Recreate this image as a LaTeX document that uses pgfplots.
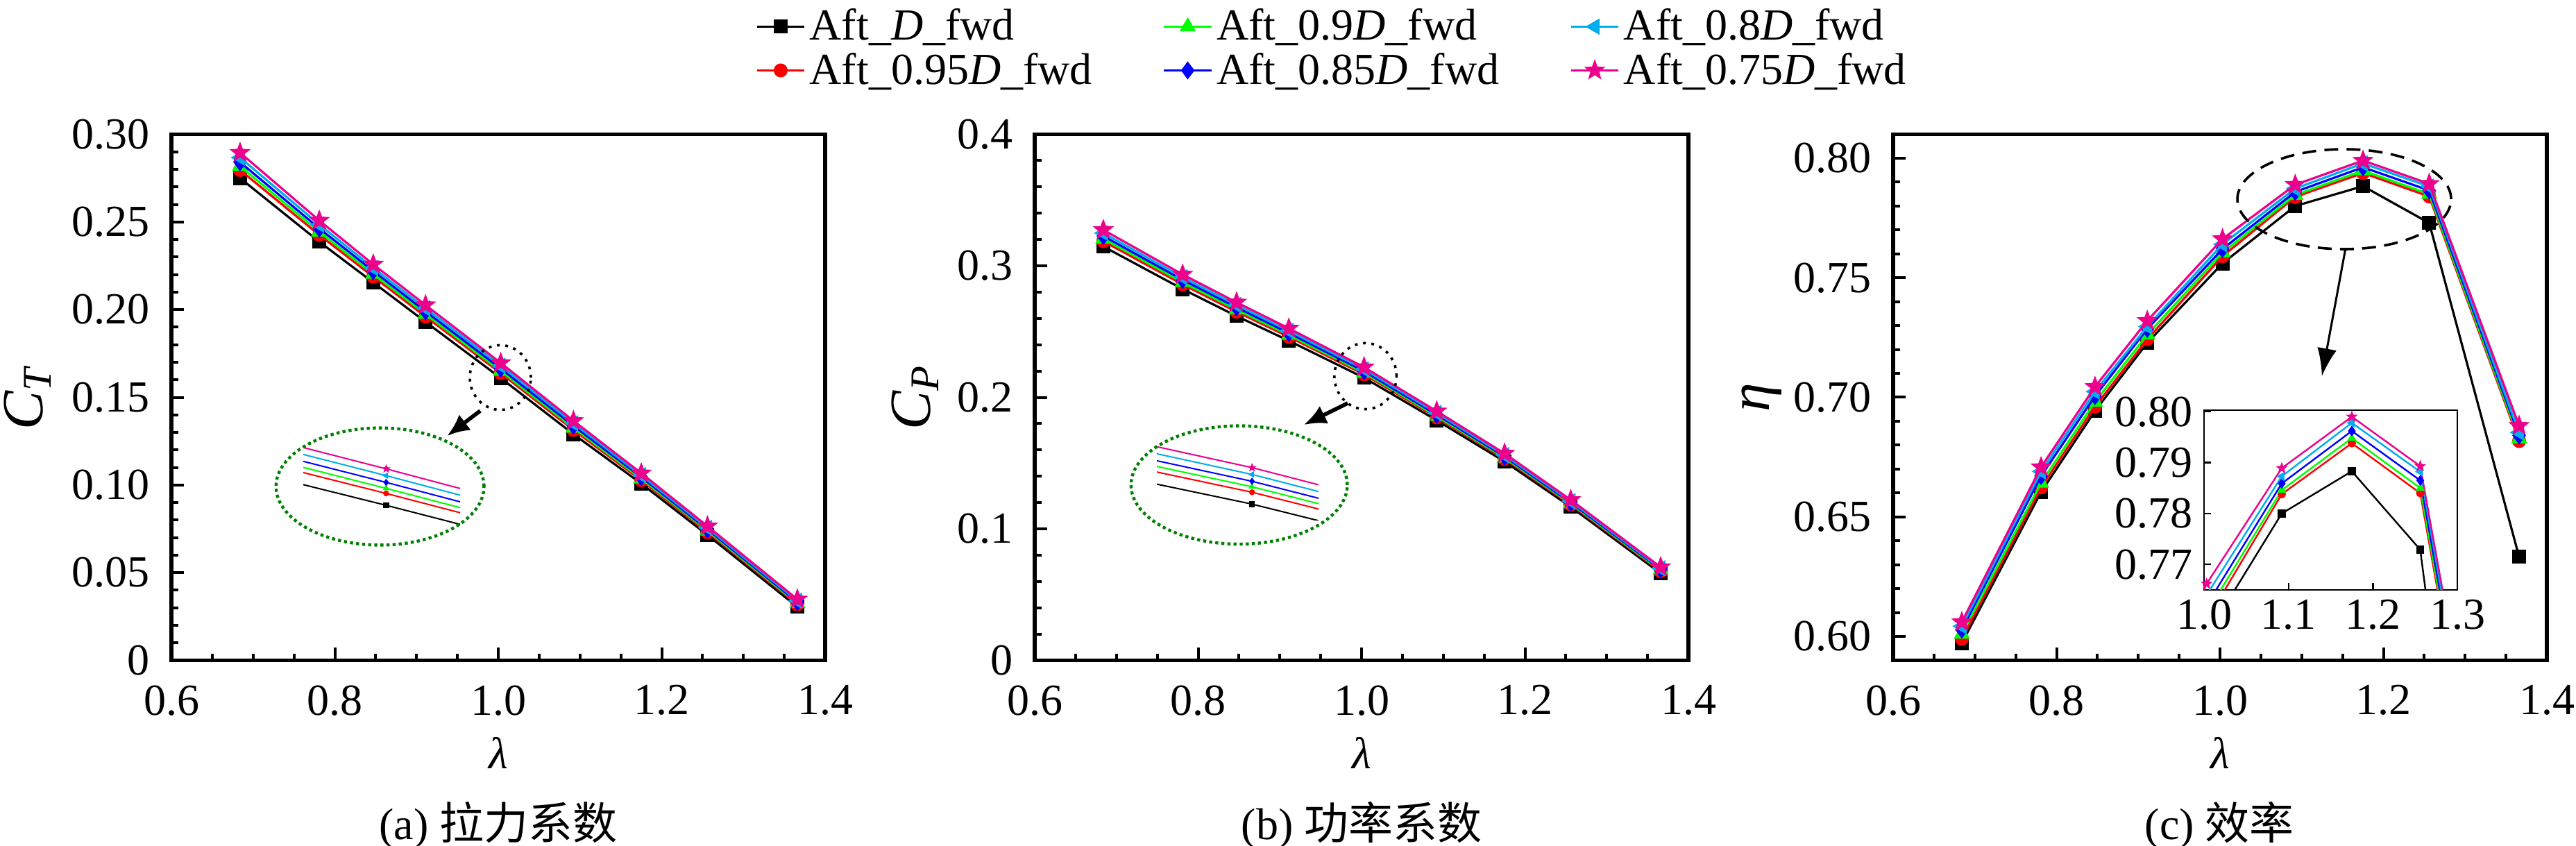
\documentclass[border=0pt]{standalone}
\usepackage{pgfplots}
\pgfplotsset{compat=1.18}
\usepackage{pgfplotstable}
\usepackage{fontspec}
\setmainfont{Liberation Serif}
\newfontfamily\cjk{Noto Sans CJK SC}
\usetikzlibrary{arrows.meta}
\newcommand\fs{\fontsize{16}{19}\selectfont}
\newcommand\fsl{\fontsize{21}{24}\selectfont}
\definecolor{dgreen}{RGB}{0,128,0}

\pgfdeclareplotmark{fstar}{%
 \pgfpathmoveto{\pgfpointpolar{90}{\pgfplotmarksize}}%
 \pgfpathlineto{\pgfpointpolar{126}{0.42\pgfplotmarksize}}%
 \pgfpathlineto{\pgfpointpolar{162}{\pgfplotmarksize}}%
 \pgfpathlineto{\pgfpointpolar{198}{0.42\pgfplotmarksize}}%
 \pgfpathlineto{\pgfpointpolar{234}{\pgfplotmarksize}}%
 \pgfpathlineto{\pgfpointpolar{270}{0.42\pgfplotmarksize}}%
 \pgfpathlineto{\pgfpointpolar{306}{\pgfplotmarksize}}%
 \pgfpathlineto{\pgfpointpolar{342}{0.42\pgfplotmarksize}}%
 \pgfpathlineto{\pgfpointpolar{18}{\pgfplotmarksize}}%
 \pgfpathlineto{\pgfpointpolar{54}{0.42\pgfplotmarksize}}%
 \pgfpathclose
 \pgfusepathqfillstroke}

\pgfplotstableread{
x k r g b c m
0.684 0.2750 0.2796 0.2818 0.2841 0.2867 0.2895
0.781 0.2387 0.2426 0.2444 0.2463 0.2485 0.2508
0.847 0.2155 0.2188 0.2203 0.2220 0.2238 0.2258
0.911 0.1930 0.1961 0.1975 0.1990 0.2008 0.2026
1.003 0.1610 0.1638 0.1650 0.1664 0.1680 0.1696
1.092 0.1290 0.1314 0.1326 0.1338 0.1352 0.1366
1.175 0.1008 0.1027 0.1036 0.1045 0.1056 0.1067
1.256 0.0715 0.0731 0.0739 0.0747 0.0756 0.0765
1.366 0.0305 0.0319 0.0325 0.0332 0.0340 0.0348
}\CT

\pgfplotstableread{
x k r g b c m
0.684 0.3147 0.3187 0.3206 0.3226 0.3249 0.3273
0.781 0.2823 0.2859 0.2875 0.2893 0.2913 0.2934
0.847 0.2618 0.2651 0.2667 0.2684 0.2702 0.2722
0.911 0.2430 0.2460 0.2474 0.2489 0.2506 0.2524
1.003 0.2149 0.2175 0.2187 0.2199 0.2214 0.2229
1.092 0.1825 0.1847 0.1857 0.1868 0.1881 0.1894
1.175 0.1512 0.1532 0.1541 0.1550 0.1561 0.1573
1.256 0.1167 0.1184 0.1192 0.1200 0.1210 0.1220
1.366 0.0662 0.0677 0.0684 0.0692 0.0700 0.0709
}\CP

\pgfplotstableread{
x k r g b c m
0.684 0.5972 0.5990 0.6010 0.6029 0.6043 0.6060
0.781 0.6604 0.6623 0.6642 0.6671 0.6690 0.6708
0.847 0.6943 0.6961 0.6981 0.7005 0.7024 0.7044
0.911 0.7228 0.7243 0.7262 0.7286 0.7296 0.7320
1.003 0.7560 0.7590 0.7605 0.7620 0.7640 0.7662
1.092 0.7800 0.7838 0.7846 0.7859 0.7873 0.7889
1.175 0.7883 0.7938 0.7948 0.7962 0.7978 0.7990
1.256 0.7729 0.7840 0.7850 0.7865 0.7882 0.7893
1.366 0.6333 0.6817 0.6827 0.6840 0.6853 0.6881
}\ETA

\pgfplotsset{
  mainax/.style={
    scale only axis, width=235.5pt, height=189.5pt,
    xmin=0.6, xmax=1.4,
    xtick={0.6,0.8,1.0,1.2,1.4}, xticklabels={0.6,0.8,1.0,1.2,1.4},
    minor x tick num=3, minor y tick num=4,
    tick align=inside, xtick pos=left, ytick pos=left,
    axis line style={line width=1.4pt},
    major tick length=4.5pt, minor tick length=2.4pt,
    every tick/.append style={line width=1pt, black},
    tick label style={font=\fs, inner sep=1pt},
    xticklabel style={yshift=-7.8pt},
    yticklabel style={xshift=-6.8pt},
    xlabel={\textit{λ}},
    xlabel style={font=\fs, at={(axis description cs:0.5,-0.176)}, anchor=center},
    ylabel style={font=\fsl, anchor=center},
    clip mode=individual,
    every axis plot/.append style={line width=0.8pt},
  },
  sK/.style={black, mark=square*, mark size=2.1pt},
  sR/.style={red, mark=*, mark size=2.1pt},
  sG/.style={green, mark=triangle*, mark size=2.6pt},
  sB/.style={blue, mark=diamond*, mark size=2.6pt},
  sC/.style={cyan, mark=triangle*, mark size=2.6pt, mark options={rotate=90}},
  sM/.style={magenta, mark=fstar, mark size=2.9pt},
  insetlines/.style={scale only axis, hide axis, every axis plot/.append style={line width=0.5pt}},
}

\begin{document}
\begin{tikzpicture}
% ---------- (a) ----------
\begin{axis}[mainax, at={(61.75pt,66.875pt)}, anchor=south west,
  ymin=0, ymax=0.30, ytick={0,0.05,0.10,0.15,0.20,0.25,0.30},
  yticklabels={0,0.05,0.10,0.15,0.20,0.25,0.30},
  ylabel={\textit{C}\textsubscript{\textit{T}}},
  ylabel style={at={(axis description cs:-0.22,0.5)}}]
\addplot[sK] table[x=x,y=k]{\CT};
\addplot[sR] table[x=x,y=r]{\CT};
\addplot[sG] table[x=x,y=g]{\CT};
\addplot[sB] table[x=x,y=b]{\CT};
\addplot[sC] table[x=x,y=c]{\CT};
\addplot[sM] table[x=x,y=m]{\CT};
\end{axis}
\begin{axis}[insetlines, at={(109.25pt,115.85pt)}, anchor=south west,
  width=56.5pt, height=27.65pt, xmin=0.989, xmax=1.0155, ymin=0.1565, ymax=0.1746]
\addplot[sK, mark size=0.8pt] table[x=x,y=k]{\CT};
\addplot[sR, mark size=0.8pt] table[x=x,y=r]{\CT};
\addplot[sG, mark size=0.9pt] table[x=x,y=g]{\CT};
\addplot[sB, mark size=0.9pt] table[x=x,y=b]{\CT};
\addplot[sC, mark size=0.9pt] table[x=x,y=c]{\CT};
\addplot[sM, mark size=1pt] table[x=x,y=m]{\CT};
\end{axis}

% ---------- (b) ----------
\begin{axis}[mainax, at={(372.75pt,66.875pt)}, anchor=south west,
  ymin=0, ymax=0.4, ytick={0,0.1,0.2,0.3,0.4},
  yticklabels={0,0.1,0.2,0.3,0.4},
  ylabel={\textit{C}\textsubscript{\textit{P}}},
  ylabel style={at={(axis description cs:-0.183,0.5)}},
  legend style={draw=none, fill=none, font=\fs,
    at={(axis description cs:0.4565,1.163)}, anchor=center,
    nodes={inner sep=1.5pt},
    /tikz/every even column/.append style={column sep=24pt}},
  legend columns=2, transpose legend, legend cell align=left]
\addplot[sK] table[x=x,y=k]{\CP};
\addlegendentry{Aft\_\textit{D}\_fwd}
\addplot[sR] table[x=x,y=r]{\CP};
\addlegendentry{Aft\_0.95\textit{D}\_fwd}
\addplot[sG] table[x=x,y=g]{\CP};
\addlegendentry{Aft\_0.9\textit{D}\_fwd}
\addplot[sB] table[x=x,y=b]{\CP};
\addlegendentry{Aft\_0.85\textit{D}\_fwd}
\addplot[sC] table[x=x,y=c]{\CP};
\addlegendentry{Aft\_0.8\textit{D}\_fwd}
\addplot[sM] table[x=x,y=m]{\CP};
\addlegendentry{Aft\_0.75\textit{D}\_fwd}
\end{axis}
\begin{axis}[insetlines, at={(416.75pt,117.25pt)}, anchor=south west,
  width=58.25pt, height=26.6pt, xmin=0.9887, xmax=1.013, ymin=0.2113, ymax=0.2275]
\addplot[sK, mark size=0.8pt] table[x=x,y=k]{\CP};
\addplot[sR, mark size=0.8pt] table[x=x,y=r]{\CP};
\addplot[sG, mark size=0.9pt] table[x=x,y=g]{\CP};
\addplot[sB, mark size=0.9pt] table[x=x,y=b]{\CP};
\addplot[sC, mark size=0.9pt] table[x=x,y=c]{\CP};
\addplot[sM, mark size=1pt] table[x=x,y=m]{\CP};
\end{axis}

% ---------- (c) ----------
\begin{axis}[mainax, at={(682pt,66.875pt)}, anchor=south west,
  ymin=0.59, ymax=0.81, ytick={0.60,0.65,0.70,0.75,0.80},
  yticklabels={0.60,0.65,0.70,0.75,0.80},
  ylabel={\textit{η}},
  ylabel style={at={(axis description cs:-0.201,0.5)}}]
\addplot[sK] table[x=x,y=k]{\ETA};
\addplot[sR] table[x=x,y=r]{\ETA};
\addplot[sG] table[x=x,y=g]{\ETA};
\addplot[sB] table[x=x,y=b]{\ETA};
\addplot[sC] table[x=x,y=c]{\ETA};
\addplot[sM] table[x=x,y=m]{\ETA};
\end{axis}
\begin{axis}[at={(794pt,92.25pt)}, anchor=south west, scale only axis,
  width=91.25pt, height=64.75pt,
  xmin=1.0, xmax=1.3, ymin=0.765, ymax=0.8003,
  xtick={1.0,1.1,1.2,1.3}, xticklabels={1.0,1.1,1.2,1.3},
  ytick={0.77,0.78,0.79,0.80}, yticklabels={0.77,0.78,0.79,0.80},
  tick align=inside, xtick pos=left, ytick pos=left,
  axis line style={line width=0.6pt}, major tick length=2.5pt,
  every tick/.append style={line width=0.6pt, black},
  tick label style={font=\fs}, yticklabel style={xshift=-0.5pt},
  axis background/.style={fill=white},
  every axis plot/.append style={line width=0.6pt}]
\addplot[sK, mark size=1.1pt] table[x=x,y=k]{\ETA};
\addplot[sR, mark size=1.2pt] table[x=x,y=r]{\ETA};
\addplot[sG, mark size=1.3pt] table[x=x,y=g]{\ETA};
\addplot[sB, mark size=1.4pt] table[x=x,y=b]{\ETA};
\addplot[sC, mark size=1.3pt] table[x=x,y=c]{\ETA};
\addplot[sM, mark size=1.4pt] table[x=x,y=m]{\ETA};
\end{axis}

% ---------- annotations ----------
\draw[line width=0.9pt, dash pattern=on 1pt off 2pt] (180.25pt,168.75pt) ellipse [x radius=11pt, y radius=11.65pt];
\draw[line width=1.4pt, -{Latex[length=8pt,width=7pt]}] (173pt,156.75pt) -- (161.1pt,147.75pt);
\draw[dgreen, line width=1.1pt, dash pattern=on 1.1pt off 1.1pt] (136.9pt,129.5pt) ellipse [x radius=37.45pt, y radius=21.1pt];

\draw[line width=0.9pt, dash pattern=on 1pt off 2pt] (491.9pt,169.25pt) ellipse [x radius=11.2pt, y radius=11.9pt];
\draw[line width=1.4pt, -{Latex[length=8pt,width=7pt]}] (485.5pt,159.5pt) -- (469.75pt,151.75pt);
\draw[dgreen, line width=1.1pt, dash pattern=on 1.1pt off 1.1pt] (446.4pt,130.05pt) ellipse [x radius=38.95pt, y radius=21.3pt];

\draw[line width=0.9pt, dash pattern=on 5pt off 3pt] (844.5pt,233pt) ellipse [x radius=38.5pt, y radius=18pt];
\draw[line width=0.75pt, -{Latex[length=10pt,width=7pt]}] (844.9pt,214.9pt) -- (836.45pt,169.25pt);

% ---------- captions ----------
\node[font=\fs] at (179.5pt,7.5pt) {(a) {\cjk 拉力系数}};
\node[font=\fs] at (490.5pt,7.5pt) {(b) {\cjk 功率系数}};
\node[font=\fs] at (799.6pt,7.5pt) {(c) {\cjk 效率}};

\pgfresetboundingbox
\path[use as bounding box] (0,0) rectangle (928pt,304.75pt);
\end{tikzpicture}
\end{document}
